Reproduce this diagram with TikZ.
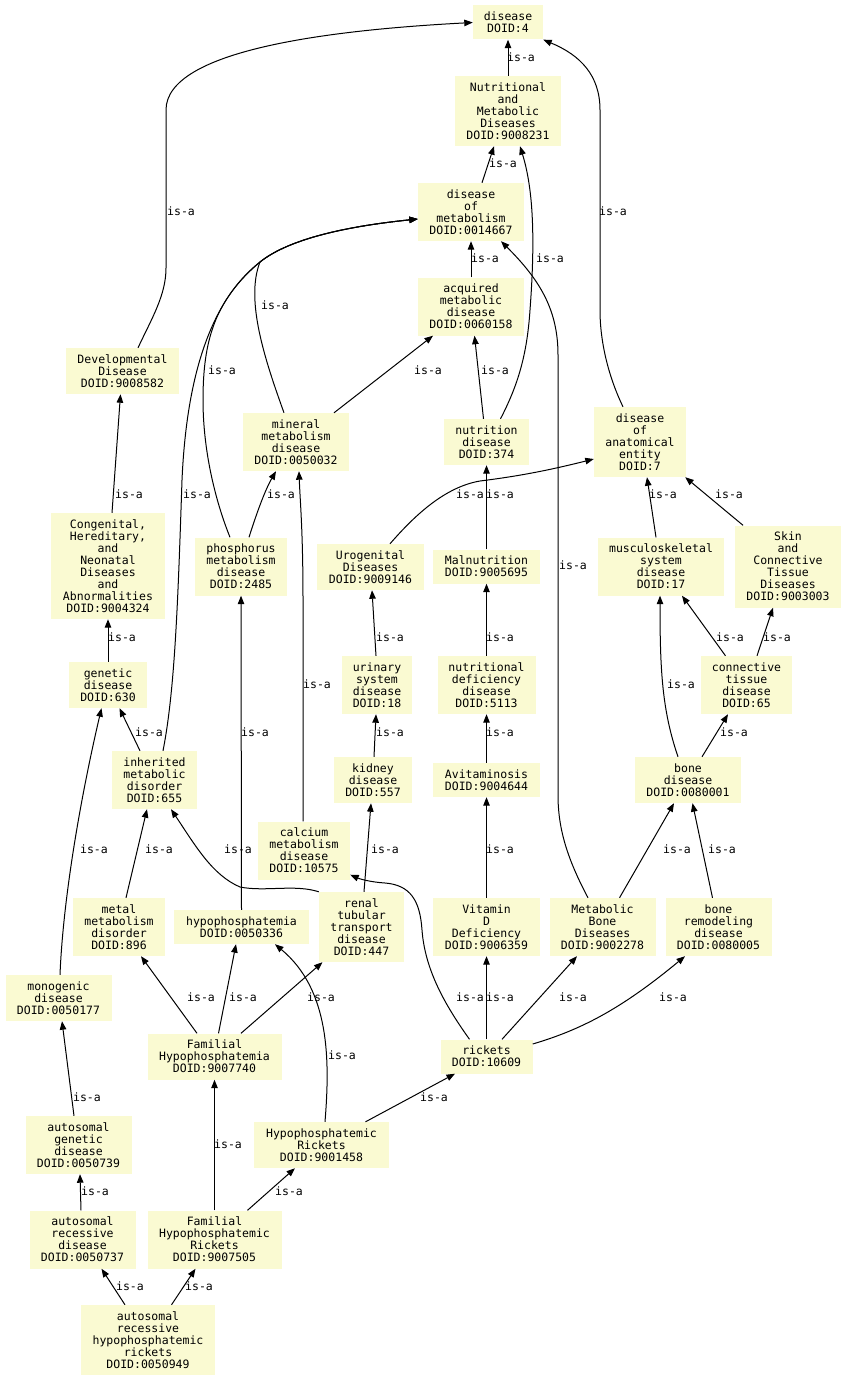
\documentclass[tikz,border=0pt]{standalone}
\usepackage{fontspec}
\setmonofont{DejaVu Sans Mono}
\usetikzlibrary{arrows.meta}
\definecolor{termfill}{RGB}{250, 250, 210}

\begin{document}
\begin{tikzpicture}[
  x=1pt, y=-1pt,
  term/.style={rectangle, fill=termfill, inner sep=0pt, align=center,
               font=\ttfamily\fontsize{11.5}{12}\selectfont},
  isa/.style={-{Triangle[length=8.5pt, width=6.5pt]}, line width=1pt, color=black},
  rel/.style={font=\ttfamily\fontsize{11.5}{12}\selectfont, inner sep=0pt}
]
\useasboundingbox (0,0) rectangle (847,1381);

\node[term, minimum width=70, minimum height=34] (disease) at (508,22.5) {disease\\DOID:4};
\node[term, minimum width=106, minimum height=70] (nutr_metab) at (508,111) {Nutritional\\and\\Metabolic\\Diseases\\DOID:9008231};
\node[term, minimum width=106, minimum height=58] (dis_metab) at (471,212) {disease\\of\\metabolism\\DOID:0014667};
\node[term, minimum width=106, minimum height=58] (acq_metab) at (471,306.5) {acquired\\metabolic\\disease\\DOID:0060158};
\node[term, minimum width=92, minimum height=70] (anat_entity) at (640,442) {disease\\of\\anatomical\\entity\\DOID:7};
\node[term, minimum width=85, minimum height=46] (nutrition) at (486.5,442) {nutrition\\disease\\DOID:374};
\node[term, minimum width=106, minimum height=58] (mineral) at (296,442) {mineral\\metabolism\\disease\\DOID:0050032};
\node[term, minimum width=113, minimum height=46] (developmental) at (122.5,371) {Developmental\\Disease\\DOID:9008582};
\node[term, minimum width=114, minimum height=106] (congenital) at (108,566) {Congenital,\\Hereditary,\\and\\Neonatal\\Diseases\\and\\Abnormalities\\DOID:9004324};
\node[term, minimum width=92, minimum height=58] (phosphorus) at (241,566.5) {phosphorus\\metabolism\\disease\\DOID:2485};
\node[term, minimum width=107, minimum height=46] (urogenital) at (370.5,567) {Urogenital\\Diseases\\DOID:9009146};
\node[term, minimum width=107, minimum height=34] (malnutrition) at (486.5,566.5) {Malnutrition\\DOID:9005695};
\node[term, minimum width=126, minimum height=58] (musculo) at (661,566.5) {musculoskeletal\\system\\disease\\DOID:17};
\node[term, minimum width=106, minimum height=82] (skin_ct) at (788,566.5) {Skin\\and\\Connective\\Tissue\\Diseases\\DOID:9003003};
\node[term, minimum width=78, minimum height=46] (genetic) at (108,685) {genetic\\disease\\DOID:630};
\node[term, minimum width=70, minimum height=58] (urinary) at (377,685) {urinary\\system\\disease\\DOID:18};
\node[term, minimum width=98, minimum height=58] (nutr_def) at (486.5,685) {nutritional\\deficiency\\disease\\DOID:5113};
\node[term, minimum width=91, minimum height=58] (conn_tissue) at (746.5,685) {connective\\tissue\\disease\\DOID:65};
\node[term, minimum width=85, minimum height=58] (inherited) at (154.5,780) {inherited\\metabolic\\disorder\\DOID:655};
\node[term, minimum width=78, minimum height=46] (kidney) at (373,780) {kidney\\disease\\DOID:557};
\node[term, minimum width=107, minimum height=34] (avitaminosis) at (486.5,780) {Avitaminosis\\DOID:9004644};
\node[term, minimum width=106, minimum height=46] (bone) at (688,780) {bone\\disease\\DOID:0080001};
\node[term, minimum width=92, minimum height=58] (calcium) at (304,850.5) {calcium\\metabolism\\disease\\DOID:10575};
\node[term, minimum width=92, minimum height=58] (metal) at (119,927) {metal\\metabolism\\disorder\\DOID:896};
\node[term, minimum width=135, minimum height=34] (hypophos) at (241.5,927) {hypophosphatemia\\DOID:0050336};
\node[term, minimum width=85, minimum height=70] (renal) at (361.5,927) {renal\\tubular\\transport\\disease\\DOID:447};
\node[term, minimum width=107, minimum height=58] (vitamin_d) at (486.5,927) {Vitamin\\D\\Deficiency\\DOID:9006359};
\node[term, minimum width=106, minimum height=58] (metab_bone) at (602.5,927) {Metabolic\\Bone\\Diseases\\DOID:9002278};
\node[term, minimum width=106, minimum height=58] (bone_remod) at (718.5,927) {bone\\remodeling\\disease\\DOID:0080005};
\node[term, minimum width=106, minimum height=46] (monogenic) at (58.5,998) {monogenic\\disease\\DOID:0050177};
\node[term, minimum width=134, minimum height=46] (fam_hypophos) at (214.5,1056.5) {Familial\\Hypophosphatemia\\DOID:9007740};
\node[term, minimum width=92, minimum height=34] (rickets) at (486.5,1056.5) {rickets\\DOID:10609};
\node[term, minimum width=106, minimum height=58] (auto_genetic) at (78.5,1145) {autosomal\\genetic\\disease\\DOID:0050739};
\node[term, minimum width=135, minimum height=46] (hypophos_rickets) at (321.5,1145) {Hypophosphatemic\\Rickets\\DOID:9001458};
\node[term, minimum width=106, minimum height=58] (auto_recessive) at (82.5,1239.5) {autosomal\\recessive\\disease\\DOID:0050737};
\node[term, minimum width=134, minimum height=58] (fam_hr) at (214.5,1239.5) {Familial\\Hypophosphatemic\\Rickets\\DOID:9007505};
\node[term, minimum width=134, minimum height=70] (ar_hr) at (148,1340) {autosomal\\recessive\\hypophosphatemic\\rickets\\DOID:0050949};

\draw[isa] (nutr_metab.north) -- (disease.south) node[rel] (lbl1) at (521,57) {is-a};
\draw[isa] ([xshift=15.5]developmental.north) .. controls (152,318) and (166,295) .. (166,268) -- (166,110)
  .. controls (166,50) and (330,30) .. (disease.west) node[rel] (lbl2) at (181,211) {is-a};
\draw[isa] ([xshift=-17]anat_entity.north) .. controls (610,380) and (600,345) .. (600,310) -- (600,110)
  .. controls (600,75) and (580,55) .. (disease.south east) node[rel] (lbl3) at (613,211) {is-a};
\draw[isa] ([xshift=11]dis_metab.north) -- ([xshift=-14]nutr_metab.south) node[rel] (lbl4) at (503,163) {is-a};
\draw[isa] ([xshift=14]nutrition.north) .. controls (518,385) and (527,355) .. (530,310)
  .. controls (536,230) and (532,185) .. ([xshift=12]nutr_metab.south) node[rel] (lbl5) at (550,258) {is-a};
\draw[isa] (acq_metab.north) -- (dis_metab.south) node[rel] (lbl6) at (485,258) {is-a};
\draw[isa] ([xshift=-14.5]metab_bone.north) .. controls (568,860) and (558,830) .. (558,795) -- (558,355)
  .. controls (558,310) and (540,280) .. ([xshift=30]dis_metab.south) node[rel] (lbl7) at (573,565) {is-a};
\draw[isa] ([xshift=-12]mineral.north) .. controls (265,360) and (245,300) .. (260,262)
  .. controls (290,238) and (350,226) .. ([yshift=-7]dis_metab.west) node[rel] (lbl8) at (275,305) {is-a};
\draw[isa] ([xshift=-11]phosphorus.north) .. controls (215,500) and (203,450) .. (203,400)
  .. controls (203,340) and (215,300) .. (260,262)
  .. controls (290,238) and (350,226) .. ([yshift=-7]dis_metab.west) node[rel] (lbl9) at (222,370) {is-a};
\draw[isa] ([xshift=8.5]inherited.north) .. controls (175,690) and (178,600) .. (182,480)
  .. controls (186,390) and (205,305) .. (260,262)
  .. controls (290,238) and (350,226) .. ([yshift=-7]dis_metab.west) node[rel] (lbl10) at (197,494) {is-a};
\draw[isa] ([xshift=-3]nutrition.north) -- ([xshift=3.5]acq_metab.south) node[rel] (lbl11) at (495,370) {is-a};
\draw[isa] ([xshift=38]mineral.north) -- ([xshift=-38]acq_metab.south) node[rel] (lbl12) at (428,370) {is-a};
\draw[isa] ([xshift=19.5]urogenital.north) .. controls (415,515) and (445,487) .. (480,481)
  .. controls (520,476) and (550,470) .. ([yshift=-17]anat_entity.west) node[rel] (lbl13) at (470,494) {is-a};
\draw[isa] (malnutrition.north) -- (nutrition.south) node[rel] (lbl14) at (500,494) {is-a};
\draw[isa] ([xshift=-5]musculo.north) -- ([xshift=7]anat_entity.south) node[rel] (lbl15) at (663,494) {is-a};
\draw[isa] ([xshift=-45]skin_ct.north) -- ([xshift=-1]anat_entity.south east) node[rel] (lbl16) at (729,494) {is-a};
\draw[isa] ([xshift=4]congenital.north) -- ([xshift=-2]developmental.south) node[rel] (lbl17) at (129,494) {is-a};
\draw[isa] ([xshift=8]phosphorus.north) .. controls (256,515) and (265,490) .. ([xshift=-20]mineral.south)
  node[rel] (lbl18) at (281,494) {is-a};
\draw[isa] ([xshift=-1]calcium.north) -- (303,600) .. controls (303,530) and (300,500) .. ([xshift=3]mineral.south)
  node[rel] (lbl19) at (317,684) {is-a};
\draw[isa] (genetic.north) -- (congenital.south) node[rel] (lbl20) at (122,637) {is-a};
\draw[isa] ([xshift=-1]urinary.north) -- ([xshift=1.5]urogenital.south) node[rel] (lbl21) at (390,637) {is-a};
\draw[isa] (nutr_def.north) -- (malnutrition.south) node[rel] (lbl22) at (500,637) {is-a};
\draw[isa] ([xshift=-21]conn_tissue.north) -- ([xshift=21]musculo.south) node[rel] (lbl23) at (730,637) {is-a};
\draw[isa] ([xshift=10.5]conn_tissue.north) -- ([xshift=-15]skin_ct.south) node[rel] (lbl24) at (777,637) {is-a};
\draw[isa] ([xshift=-10]bone.north) .. controls (662,710) and (660,670) .. ([xshift=-1]musculo.south)
  node[rel] (lbl25) at (681,684) {is-a};
\draw[isa] ([xshift=14]bone.north) -- ([xshift=-18.5]conn_tissue.south) node[rel] (lbl26) at (734,732) {is-a};
\draw[isa] ([xshift=-14.5]inherited.north) -- ([xshift=11.5]genetic.south) node[rel] (lbl27) at (149,732) {is-a};
\draw[isa] ([xshift=1]kidney.north) -- ([xshift=-1]urinary.south) node[rel] (lbl28) at (390,732) {is-a};
\draw[isa] (avitaminosis.north) -- (nutr_def.south) node[rel] (lbl29) at (500,732) {is-a};
\draw[isa] (vitamin_d.north) -- (avitaminosis.south) node[rel] (lbl30) at (500,849) {is-a};
\draw[isa] ([xshift=17]metab_bone.north) -- ([xshift=-14]bone.south) node[rel] (lbl31) at (677,849) {is-a};
\draw[isa] ([xshift=-6]bone_remod.north) -- ([xshift=4.5]bone.south) node[rel] (lbl32) at (722,849) {is-a};
\draw[isa] ([xshift=7]metal.north) -- ([xshift=-7.5]inherited.south) node[rel] (lbl33) at (159,849) {is-a};
\draw[isa] ([xshift=1.5]monogenic.north) .. controls (63,900) and (80,800) .. ([xshift=-6.5]genetic.south)
  node[rel] (lbl34) at (94,849) {is-a};
\draw[isa] (renal.north west) .. controls (295,884) and (265,892) .. (240,887)
  .. controls (212,875) and (195,845) .. ([xshift=16.5]inherited.south) node[rel] (lbl35) at (238,849) {is-a};
\draw[isa] ([xshift=-17]rickets.north) .. controls (445,1005) and (425,970) .. (422,930)
  .. controls (420,900) and (410,885) .. (385,883)
  .. controls (370,882) and (360,879) .. ([yshift=5]calcium.south east) node[rel] (lbl36) at (470,997) {is-a};
\draw[isa] (rickets.north) -- (vitamin_d.south) node[rel] (lbl37) at (500,997) {is-a};
\draw[isa] ([xshift=15.5]rickets.north) -- ([xshift=-25.5]metab_bone.south) node[rel] (lbl38) at (573,997) {is-a};
\draw[isa] ([yshift=12.5]rickets.east) .. controls (580,1030) and (620,1010) .. ([xshift=-33.5]bone_remod.south)
  node[rel] (lbl39) at (673,997) {is-a};
\draw[isa] ([xshift=-17.5]fam_hypophos.north) -- ([xshift=22]metal.south) node[rel] (lbl40) at (201,997) {is-a};
\draw[isa] ([xshift=4]fam_hypophos.north) -- ([xshift=-5.5]hypophos.south) node[rel] (lbl41) at (243,997) {is-a};
\draw[isa] ([xshift=26.5]fam_hypophos.north) -- ([xshift=-39]renal.south) node[rel] (lbl42) at (321,997) {is-a};
\draw[isa] ([xshift=3.5]hypophos_rickets.north) .. controls (330,1060) and (330,990) .. ([xshift=33.5]hypophos.south)
  node[rel] (lbl43) at (342,1055) {is-a};
\draw[isa] ([xshift=44]hypophos_rickets.north) -- ([xshift=-31.5]rickets.south) node[rel] (lbl44) at (434,1097) {is-a};
\draw[isa] (fam_hr.north) -- (fam_hypophos.south) node[rel] (lbl45) at (228,1144) {is-a};
\draw[isa] ([xshift=33]fam_hr.north) -- ([xshift=-26.5]hypophos_rickets.south) node[rel] (lbl46) at (289,1191) {is-a};
\draw[isa] ([xshift=-4.5]auto_genetic.north) -- ([xshift=3.5]monogenic.south) node[rel] (lbl47) at (87,1097) {is-a};
\draw[isa] ([xshift=-1.5]auto_recessive.north) -- ([xshift=1.5]auto_genetic.south) node[rel] (lbl48) at (95,1191) {is-a};
\draw[isa] ([xshift=-23]ar_hr.north) -- ([xshift=19]auto_recessive.south) node[rel] (lbl49) at (130,1286) {is-a};
\draw[isa] ([xshift=23.5]ar_hr.north) -- ([xshift=-19]fam_hr.south) node[rel] (lbl50) at (199,1286) {is-a};
\draw[isa] ([xshift=2.5]renal.north) -- ([xshift=-2]kidney.south) node[rel] (lbl51) at (385,849) {is-a};
\draw[isa] (hypophos.north) -- (phosphorus.south) node[rel] (lbl52) at (255,732) {is-a};
\end{tikzpicture}
\end{document}
